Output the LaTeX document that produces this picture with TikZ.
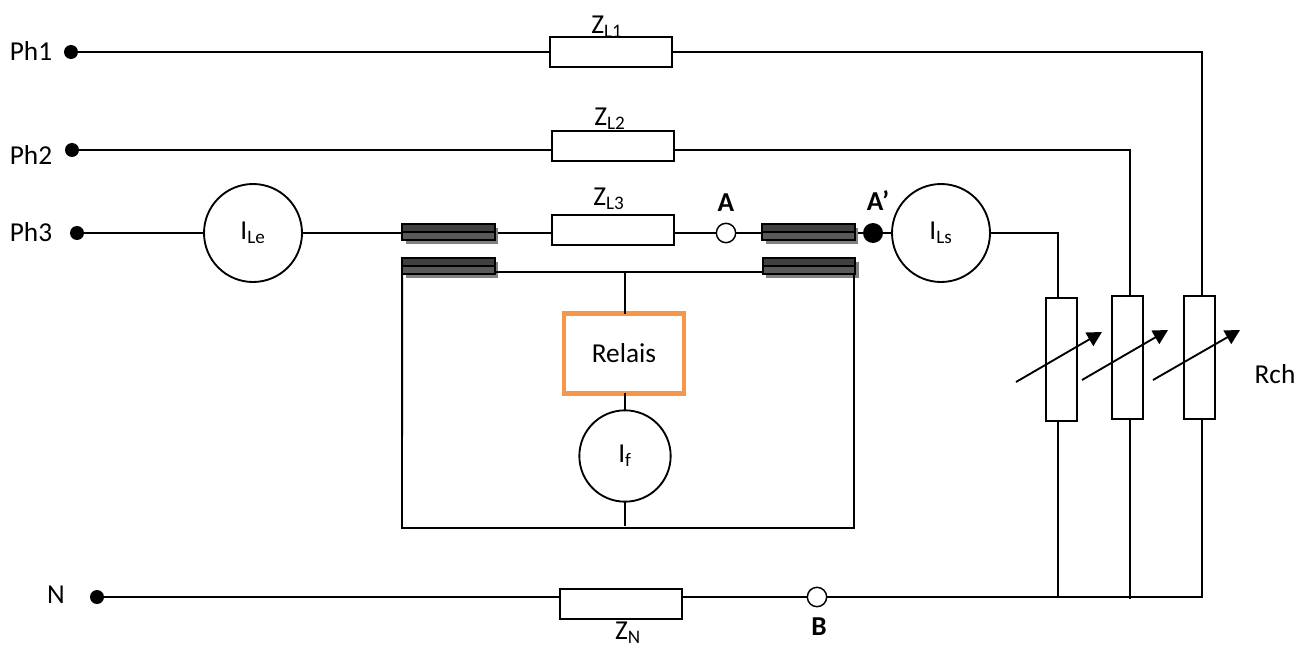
\documentclass[tikz,border=0pt]{standalone}
\usepackage{fontspec}
\setmainfont{Carlito}
\usetikzlibrary{arrows.meta,shadows}
\definecolor{relaisorange}{RGB}{247,150,70}
\tikzset{
  wire/.style={line width=1.4pt,line cap=rect},
  res/.style={draw,line width=1.4pt,fill=white,inner sep=0pt,outer sep=0pt,minimum width=91.5pt,minimum height=22.5pt},
  vres/.style={draw,line width=1.4pt,fill=white,inner sep=0pt,outer sep=0pt,minimum width=23.2pt,minimum height=92.2pt},
  meter/.style={circle,draw,line width=1.4pt,fill=white,inner sep=0pt,outer sep=0pt,minimum size=73.5pt,font=\fontsize{20.5}{24}\selectfont},
  blackdot/.style={circle,fill=black,inner sep=0pt,outer sep=0pt,minimum size=#1},
  opendot/.style={circle,draw,line width=1.1pt,fill=white,inner sep=0pt,outer sep=0pt,minimum size=14.5pt},
  ct/.style={draw=black,line width=1.6pt,fill=black!75,inner sep=0pt,outer sep=0pt,minimum width=69.5pt,minimum height=12.2pt,
    drop shadow={shadow xshift=2.6pt,shadow yshift=-3pt,fill=black!50,opacity=1},
    path picture={
      \fill[black!65] (path picture bounding box.west) rectangle (path picture bounding box.south east);
      \draw[black,line width=1.8pt] (path picture bounding box.west) -- (path picture bounding box.east);
    }},
  lab/.style={inner sep=0pt,font=\fontsize{20.5}{24}\selectfont},
  boldlab/.style={inner sep=0pt,font=\fontsize{20.5}{24}\selectfont\bfseries},
  relaisbox/.style={draw=relaisorange,line width=3.2pt,fill=white,inner sep=0pt,outer sep=0pt,minimum width=90pt,minimum height=60pt,font=\fontsize{20.5}{24}\selectfont},
  adj/.style={line width=1.4pt,-{Triangle[length=11pt,width=11.5pt]}}
}
\begin{document}
\begin{tikzpicture}[x=0.75pt,y=-0.75pt]
\useasboundingbox (0,0) rectangle (1312,649);
% terminals
\node[blackdot=10.5pt] (d1) at (71,52) {};
\node[blackdot=10.5pt] (d2) at (72,150) {};
\node[blackdot=10.5pt] (d3) at (77,233) {};
\node[blackdot=10.5pt] (dn) at (97,597) {};
% line impedances
\node[res] (z1) at (611,52) {};
\node[res] (z2) at (613,146) {};
\node[res] (z3) at (613,230) {};
\node[res] (zn) at (621,604) {};
% meters
\node[meter] (ile) at (253,233) {I\textsubscript{Le}};
\node[meter] (ils) at (941,233) {I\textsubscript{Ls}};
\node[meter,minimum size=68.5pt] (if) at (625,456) {I\textsubscript{f}};
% points
\node[opendot] (a) at (726,233) {};
\node[blackdot=15pt] (ap) at (873,233) {};
\node[opendot] (b) at (817,597) {};
% load resistors
\node[vres] (r1) at (1061.5,359.5) {};
\node[vres] (r2) at (1127.5,357.5) {};
\node[vres] (r3) at (1199.7,357.5) {};
% relay
\node[relaisbox] (rel) at (624,353.5) {Relais};
% named junctions
\coordinate (t1) at (1058,298);
\coordinate (b1) at (1058,421);
\coordinate (t2) at (1130,296);
\coordinate (b2) at (1130,419);
\coordinate (t3) at (1202,296);
\coordinate (b3) at (1202,419);
\coordinate (j1) at (1058,597);
\coordinate (j2) at (1130,598);
\coordinate (j3) at (1202,597);
\coordinate (ifend) at (625,525);
\coordinate (tap) at (625,272);
\coordinate (bl) at (402,528);
\coordinate (br) at (854,528);
% wires
\draw[wire] (d1) -- (z1.west);
\draw[wire] (z1.east) -- (z1.east -| t3) -- (t3);
\draw[wire] (d2) -- (d2 -| z2.west);
\draw[wire] (z2.east |- d2) -- (d2 -| t2) -- (t2);
\draw[wire] (d3) -- (ile);
\draw[wire] (ile) -- (a);
\draw[wire] (a) -- (ap);
\draw[wire] (ap) -- (ils);
\draw[wire] (ils.east) -- (ils.east -| t1) -- (t1);
\draw[wire] (b1) -- (j1);
\draw[wire] (b2) -- (j2);
\draw[wire] (b3) -- (j3);
\draw[wire] (dn) -- (b);
\draw[wire] (b) -- (j3);
\draw[wire] (tap) -- (rel.north -| tap);
\draw[wire] (rel.south -| if.north) -- (if.north);
\draw[wire] (if.south) -- (ifend);
% resistors on top of the wires
\node[res] at (z2) {};
\node[res] at (z3) {};
\node[res] at (zn) {};
% current transformers
\node[ct] (ct1) at (448.5,232) {};
\node[ct] (ct2) at (808.5,232) {};
\node[ct] (ct3) at (448.5,266) {};
\node[ct] (ct4) at (809,266) {};
% secondary loop
\draw[wire] (ct3.south east |- tap) -- (ct4.south west |- tap);
\draw[wire] (ct3.south west) -- (bl) -- (br) -- (br |- ct4.south);
% adjustable arrows
\coordinate (a1s) at (1016,382); \coordinate (a1e) at (1102,332);
\coordinate (a2s) at (1082,380); \coordinate (a2e) at (1168,330);
\coordinate (a3s) at (1153,380); \coordinate (a3e) at (1240,330);
\draw[adj] (a1s) -- (a1e);
\draw[adj] (a2s) -- (a2e);
\draw[adj] (a3s) -- (a3e);
% labels
\node[lab] at (31,51) {Ph1};
\node[lab] at (31,155) {Ph2};
\node[lab] at (31,232) {Ph3};
\node[lab] at (56,595) {N};
\node[lab] at (607,27) {Z\textsubscript{L1}};
\node[lab] at (610,119) {Z\textsubscript{L2}};
\node[lab] at (609,199) {Z\textsubscript{L3}};
\node[lab] at (628,633) {Z\textsubscript{N}};
\node[boldlab] at (726,203) {A};
\node[boldlab] at (878,201) {A\symbol{39}};
\node[boldlab] at (819,627) {B};
\node[lab] at (1275,374) {Rch};
\end{tikzpicture}
\end{document}
